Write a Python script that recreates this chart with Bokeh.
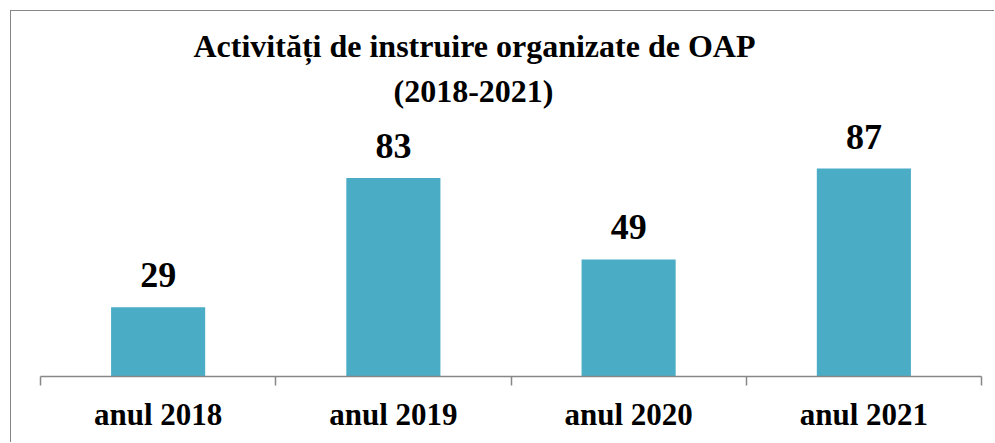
from bokeh.plotting import figure
from bokeh.models import Range1d, FixedTicker, Title, ColumnDataSource, LinearAxis
from bokeh.core.properties import value
from bokeh.embed import file_html
from bokeh.resources import INLINE

categories = ["anul 2018", "anul 2019", "anul 2020", "anul 2021"]
values = [29, 83, 49, 87]
title_line1 = "Activități de instruire organizate de OAP"
title_line2 = "(2018-2021)"

FONT = "Liberation Serif"
BAR = "#4BACC6"
GRAY = "#878787"

xs = [i + 0.5 for i in range(len(categories))]
src = ColumnDataSource(dict(x=xs, v=values, lab=[str(v) for v in values]))

p = figure(width=984, height=432, output_backend="svg", toolbar_location=None,
           x_range=Range1d(0, len(categories)), y_range=Range1d(0, 109.2),
           min_border_left=29, min_border_right=14, min_border_top=104,
           min_border_bottom=67, x_axis_location=None, y_axis_location=None,
           styles={"margin-left": "10px", "margin-top": "10px",
                   "border-left": "1px solid #868686", "border-top": "1px solid #868686"})
p.title.visible = False
p.outline_line_color = None
p.xgrid.visible = False
p.ygrid.visible = False
p.background_fill_color = "white"
p.border_fill_color = "white"

ax = LinearAxis(ticker=FixedTicker(ticks=xs, minor_ticks=list(range(len(categories) + 1))))
ax.major_label_overrides = {x: c for x, c in zip(xs, categories)}
ax.major_tick_out = 0
ax.major_tick_in = 0
ax.minor_tick_out = 9
ax.minor_tick_in = 0
ax.minor_tick_line_color = GRAY
ax.minor_tick_line_width = 1.5
ax.axis_line_color = GRAY
ax.axis_line_width = 1.5
ax.major_label_standoff = 11
ax.major_label_text_font = FONT
ax.major_label_text_font_style = "bold"
ax.major_label_text_font_size = "31px"
ax.major_label_text_color = "black"
p.add_layout(ax, "below")

p.vbar(x="x", top="v", width=0.4, bottom=0, source=src, fill_color=BAR, line_color=None)
p.text(x="x", y="v", text="lab", source=src, text_align="center", text_baseline="alphabetic",
       y_offset=-32, text_font=value(FONT), text_font_style="bold",
       text_font_size="36px", text_color="black")

p.add_layout(Title(text=title_line2, align="left", offset=353, text_font=FONT,
                   text_font_style="bold", text_font_size="32px", text_color="black",
                   standoff=13), "above")
p.add_layout(Title(text=title_line1, align="left", offset=153, text_font=FONT,
                   text_font_style="bold", text_font_size="32px", text_color="black",
                   standoff=2), "above")

open("out.html", "w").write(file_html(p, INLINE))
